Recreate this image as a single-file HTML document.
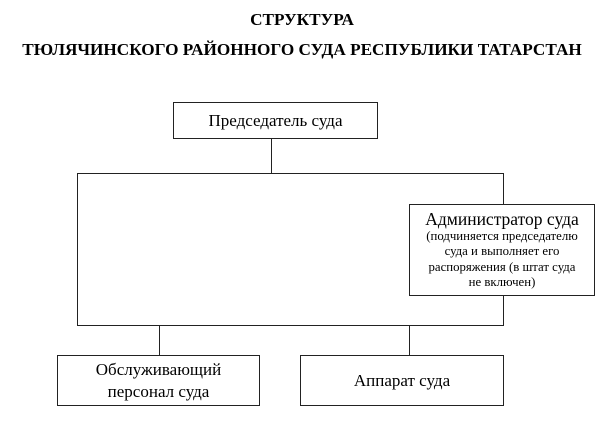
<!DOCTYPE html>
<html><head><meta charset="utf-8"><style>
body{margin:0;width:604px;height:431px;background:#fff;position:relative;font-family:"Liberation Serif",serif;color:#000;overflow:hidden}
.t{position:absolute;left:0;width:604px;text-align:center;font-weight:bold;font-size:17.2px}
.b{position:absolute;border:1.5px solid #222;box-sizing:border-box;display:flex;flex-direction:column;align-items:center;justify-content:center;text-align:center}
.l{position:absolute;background:#222}
</style></head><body>
<div class="t" style="top:10px">СТРУКТУРА</div>
<div class="t" style="top:40px">ТЮЛЯЧИНСКОГО РАЙОННОГО СУДА РЕСПУБЛИКИ ТАТАРСТАН</div>
<div class="b" style="left:173px;top:102px;width:205px;height:37px;font-size:17px">Председатель суда</div>
<div class="l" style="left:271px;top:139px;width:1px;height:35px"></div>
<div class="b" style="left:77px;top:173px;width:427px;height:153px;border-width:1px"></div>
<div class="b" style="left:409px;top:204px;width:186px;height:92px;background:#fff;justify-content:flex-start;padding-top:4px">
<div style="font-size:17.5px;line-height:20px">Администратор суда</div>
<div style="font-size:12.8px;line-height:15.3px">(подчиняется председателю<br>суда и выполняет его<br>распоряжения (в штат суда<br>не включен)</div></div>
<div class="l" style="left:159px;top:325px;width:1px;height:30px"></div>
<div class="l" style="left:409px;top:325px;width:1px;height:30px"></div>
<div class="b" style="left:57px;top:355px;width:203px;height:51px;font-size:17px;line-height:22px">Обслуживающий<br>персонал суда</div>
<div class="b" style="left:300px;top:355px;width:204px;height:51px;font-size:17px">Аппарат суда</div>
</body></html>
